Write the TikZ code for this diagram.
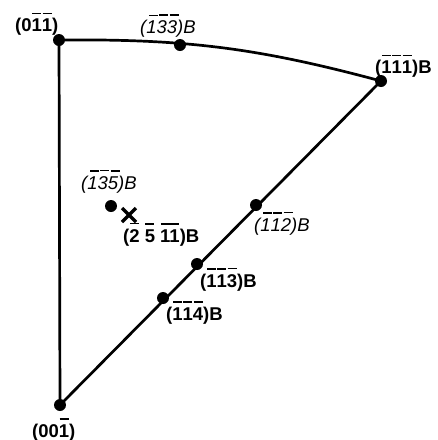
\documentclass[tikz,border=0pt]{standalone}
\usepackage{fontspec}
\setmainfont{Liberation Sans}
\usetikzlibrary{calc}
\newcommand\ob[2][0pt]{\setbox0\hbox{#2}\vbox{\offinterlineskip\hbox to\wd0{\kern\dimexpr0.7pt+#1\relax\leaders\hrule height1.6pt depth0pt\hfill\kern\dimexpr0.7pt-#1\relax}\kern4.6pt\box0}}
\newcommand\oi[1]{\ob[2pt]{#1}}
\tikzset{
  pole/.style={circle,fill=black,inner sep=0pt,minimum size=12pt},
  lab/.style={inner sep=0pt,anchor=base west,font=\fontsize{18.5}{20}\selectfont\bfseries},
  ilab/.style={inner sep=0pt,anchor=base west,font=\fontsize{18.5}{20}\selectfont\itshape},
  edge/.style={line width=2.7pt},
}
\begin{document}
\begin{tikzpicture}[x=1pt,y=-1pt]
\useasboundingbox (0,0) rectangle (438,440);
\node[pole] (A) at (59,40) {};
\node[pole] (B) at (180,45) {};
\node[pole] (C) at (381,81) {};
\node[pole] (D) at (256,205) {};
\node[pole] (E) at (197,264) {};
\node[pole] (F) at (163,298) {};
\node[pole] (O) at (60,405) {};
\node[pole] (G) at (111,206) {};
\coordinate (X) at (129,215);
\draw[edge] (A.center) to[bend left=7.8] (C.center);
\draw[edge] (A.center) -- (O.center);
\draw[edge] (O.center) -- (C.center);
\draw[line width=3.2pt] ($(X)+(-7,-7)$) -- ($(X)+(7,7)$) ($(X)+(-7,7)$) -- ($(X)+(7,-7)$);
\node[lab] (lA) at (15,31.5) {(0\ob{1}\ob{1})};
\node[ilab] (lB) at (140,33.5) {(\oi{1}\oi{3}\oi{3})B};
\node[lab] (lC) at (375,73.5) {(\ob{1}\ob{1}\ob{1})B};
\node[ilab] (lG) at (81,189) {(\oi{1}\oi{3}\oi{5})B};
\node[lab] (lX) at (123,242) {(\ob{2} \ob{5} \ob{11})B};
\node[ilab] (lD) at (254,231) {(\oi{1}\oi{1}\oi{2})B};
\node[lab] (lE) at (200,287) {(\ob{1}\ob{1}\ob{3})B};
\node[lab] (lF) at (166,320) {(\ob{1}\ob{1}\ob{4})B};
\node[lab] (lO) at (32,437) {(00\ob{1})};
\end{tikzpicture}
\end{document}
